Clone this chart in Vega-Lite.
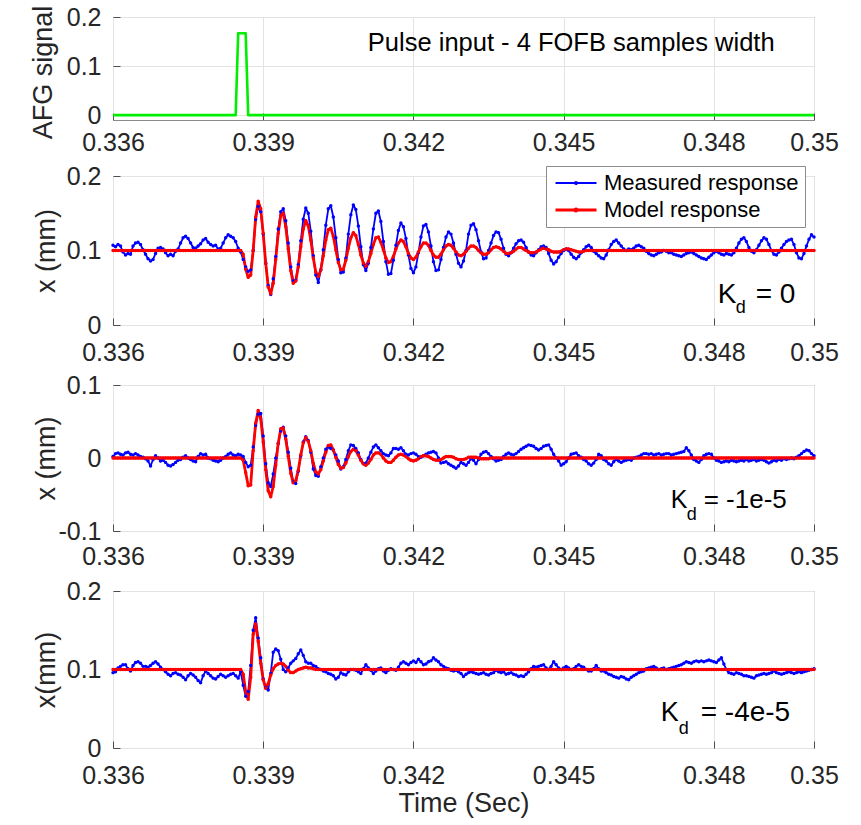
{
"$schema":"https://vega.github.io/schema/vega-lite/v6.json",
"background":"white",
"padding":{"left":28,"top":4,"right":12,"bottom":5},
"config":{
"font":"Liberation Sans",
"view":{"stroke":"#8a8a8a","strokeWidth":1},
"axis":{"labelFont":"Liberation Sans","titleFont":"Liberation Sans","labelFontSize":25,"titleFontSize":27,"titleFontWeight":"normal","labelColor":"#262626","titleColor":"#262626","domain":false,"grid":true,"gridColor":"#e3e3e3","tickColor":"#4d4d4d","tickSize":-7,"labelOverlap":false,"labelFlush":false,"labelBound":false},
"axisX":{"labelPadding":20,"titlePadding":2},
"axisY":{"labelPadding":19,"titleBaseline":"middle"},
"text":{"font":"Liberation Sans","color":"#000000"}
},
"datasets":{
"afg":[{"t":0.336,"a":0},{"t":0.33845,"a":0},{"t":0.3385,"a":0.167},{"t":0.33855,"a":0.167},{"t":0.3386,"a":0.167},{"t":0.33865,"a":0.167},{"t":0.3387,"a":0},{"t":0.35,"a":0}],
"resp":[
{"t":0.336,"m1":0.107,"r1":0.1,"m2":0.002,"r2":0,"m3":0.096,"r3":0.1},
{"t":0.33605,"m1":0.105,"r1":0.1,"m2":0.006,"r2":0,"m3":0.097,"r3":0.1},
{"t":0.3361,"m1":0.108,"r1":0.1,"m2":0.007,"r2":0,"m3":0.102,"r3":0.1},
{"t":0.33615,"m1":0.106,"r1":0.1,"m2":0.005,"r2":0,"m3":0.104,"r3":0.1},
{"t":0.3362,"m1":0.098,"r1":0.1,"m2":0.004,"r2":0,"m3":0.106,"r3":0.1},
{"t":0.33625,"m1":0.094,"r1":0.1,"m2":0.007,"r2":0,"m3":0.106,"r3":0.1},
{"t":0.3363,"m1":0.096,"r1":0.1,"m2":0.008,"r2":0,"m3":0.101,"r3":0.1},
{"t":0.33635,"m1":0.095,"r1":0.1,"m2":0.005,"r2":0,"m3":0.098,"r3":0.1},
{"t":0.3364,"m1":0.106,"r1":0.1,"m2":0.004,"r2":0,"m3":0.105,"r3":0.1},
{"t":0.33645,"m1":0.11,"r1":0.1,"m2":0.006,"r2":0,"m3":0.109,"r3":0.1},
{"t":0.3365,"m1":0.111,"r1":0.1,"m2":0.004,"r2":0,"m3":0.11,"r3":0.1},
{"t":0.33655,"m1":0.108,"r1":0.1,"m2":0.002,"r2":0,"m3":0.108,"r3":0.1},
{"t":0.3366,"m1":0.101,"r1":0.1,"m2":0.001,"r2":0,"m3":0.104,"r3":0.1},
{"t":0.33665,"m1":0.095,"r1":0.1,"m2":-0.001,"r2":0,"m3":0.104,"r3":0.1},
{"t":0.3367,"m1":0.089,"r1":0.1,"m2":-0.004,"r2":0,"m3":0.103,"r3":0.1},
{"t":0.33675,"m1":0.086,"r1":0.1,"m2":-0.011,"r2":0,"m3":0.105,"r3":0.1},
{"t":0.3368,"m1":0.088,"r1":0.1,"m2":-0.002,"r2":0,"m3":0.108,"r3":0.1},
{"t":0.33685,"m1":0.096,"r1":0.1,"m2":0.003,"r2":0,"m3":0.11,"r3":0.1},
{"t":0.3369,"m1":0.103,"r1":0.1,"m2":0,"r2":0,"m3":0.107,"r3":0.1},
{"t":0.33695,"m1":0.104,"r1":0.1,"m2":-0.004,"r2":0,"m3":0.103,"r3":0.1},
{"t":0.337,"m1":0.102,"r1":0.1,"m2":-0.003,"r2":0,"m3":0.1,"r3":0.1},
{"t":0.33705,"m1":0.097,"r1":0.1,"m2":-0.006,"r2":0,"m3":0.097,"r3":0.1},
{"t":0.3371,"m1":0.093,"r1":0.1,"m2":-0.01,"r2":0,"m3":0.094,"r3":0.1},
{"t":0.33715,"m1":0.095,"r1":0.1,"m2":-0.011,"r2":0,"m3":0.092,"r3":0.1},
{"t":0.3372,"m1":0.093,"r1":0.1,"m2":-0.009,"r2":0,"m3":0.095,"r3":0.1},
{"t":0.33725,"m1":0.099,"r1":0.1,"m2":-0.006,"r2":0,"m3":0.096,"r3":0.1},
{"t":0.3373,"m1":0.102,"r1":0.1,"m2":-0.003,"r2":0,"m3":0.094,"r3":0.1},
{"t":0.33735,"m1":0.11,"r1":0.1,"m2":-0.002,"r2":0,"m3":0.093,"r3":0.1},
{"t":0.3374,"m1":0.117,"r1":0.1,"m2":0.001,"r2":0,"m3":0.09,"r3":0.1},
{"t":0.33745,"m1":0.119,"r1":0.1,"m2":0.003,"r2":0,"m3":0.087,"r3":0.1},
{"t":0.3375,"m1":0.116,"r1":0.1,"m2":0,"r2":0,"m3":0.092,"r3":0.1},
{"t":0.33755,"m1":0.11,"r1":0.1,"m2":-0.002,"r2":0,"m3":0.095,"r3":0.1},
{"t":0.3376,"m1":0.104,"r1":0.1,"m2":-0.004,"r2":0,"m3":0.093,"r3":0.1},
{"t":0.33765,"m1":0.103,"r1":0.1,"m2":-0.005,"r2":0,"m3":0.09,"r3":0.1},
{"t":0.3377,"m1":0.106,"r1":0.1,"m2":0.002,"r2":0,"m3":0.086,"r3":0.1},
{"t":0.33775,"m1":0.109,"r1":0.1,"m2":0.006,"r2":0,"m3":0.083,"r3":0.1},
{"t":0.3378,"m1":0.114,"r1":0.1,"m2":0.004,"r2":0,"m3":0.092,"r3":0.1},
{"t":0.33785,"m1":0.116,"r1":0.1,"m2":0.005,"r2":0,"m3":0.098,"r3":0.1},
{"t":0.3379,"m1":0.111,"r1":0.1,"m2":0,"r2":0,"m3":0.095,"r3":0.1},
{"t":0.33795,"m1":0.108,"r1":0.1,"m2":-0.001,"r2":0,"m3":0.092,"r3":0.1},
{"t":0.338,"m1":0.106,"r1":0.1,"m2":-0.003,"r2":0,"m3":0.089,"r3":0.1},
{"t":0.33805,"m1":0.107,"r1":0.1,"m2":-0.004,"r2":0,"m3":0.088,"r3":0.1},
{"t":0.3381,"m1":0.102,"r1":0.1,"m2":-0.005,"r2":0,"m3":0.091,"r3":0.1},
{"t":0.33815,"m1":0.103,"r1":0.1,"m2":-0.003,"r2":0,"m3":0.094,"r3":0.1},
{"t":0.3382,"m1":0.11,"r1":0.1,"m2":0,"r2":0,"m3":0.092,"r3":0.1},
{"t":0.33825,"m1":0.117,"r1":0.1,"m2":0.002,"r2":0,"m3":0.09,"r3":0.1},
{"t":0.3383,"m1":0.121,"r1":0.1,"m2":0.005,"r2":0,"m3":0.092,"r3":0.1},
{"t":0.33835,"m1":0.119,"r1":0.1,"m2":0.007,"r2":0,"m3":0.094,"r3":0.1},
{"t":0.3384,"m1":0.117,"r1":0.1,"m2":0.004,"r2":0,"m3":0.095,"r3":0.1},
{"t":0.33845,"m1":0.112,"r1":0.1,"m2":0.003,"r2":0,"m3":0.092,"r3":0.1},
{"t":0.3385,"m1":0.103,"r1":0.1,"m2":0.005,"r2":0,"m3":0.089,"r3":0.1},
{"t":0.33855,"m1":0.098,"r1":0.1,"m2":0.004,"r2":0,"m3":0.097,"r3":0.1},
{"t":0.3386,"m1":0.088,"r1":0.095,"m2":0.002,"r2":-0.003,"m3":0.08,"r3":0.094},
{"t":0.33865,"m1":0.078,"r1":0.075,"m2":-0.006,"r2":-0.02,"m3":0.066,"r3":0.072},
{"t":0.3387,"m1":0.072,"r1":0.064,"m2":-0.012,"r2":-0.038,"m3":0.072,"r3":0.062},
{"t":0.33875,"m1":0.074,"r1":0.067,"m2":-0.01,"r2":-0.037,"m3":0.105,"r3":0.09},
{"t":0.3388,"m1":0.1,"r1":0.1,"m2":0.015,"r2":0.01,"m3":0.15,"r3":0.145},
{"t":0.33885,"m1":0.142,"r1":0.145,"m2":0.045,"r2":0.048,"m3":0.166,"r3":0.158},
{"t":0.3389,"m1":0.159,"r1":0.166,"m2":0.06,"r2":0.065,"m3":0.14,"r3":0.136},
{"t":0.33895,"m1":0.152,"r1":0.156,"m2":0.061,"r2":0.054,"m3":0.115,"r3":0.108},
{"t":0.339,"m1":0.122,"r1":0.123,"m2":0.03,"r2":0.022,"m3":0.088,"r3":0.087},
{"t":0.33905,"m1":0.083,"r1":0.083,"m2":-0.008,"r2":-0.016,"m3":0.077,"r3":0.076},
{"t":0.3391,"m1":0.053,"r1":0.051,"m2":-0.034,"r2":-0.045,"m3":0.074,"r3":0.082},
{"t":0.33915,"m1":0.041,"r1":0.042,"m2":-0.039,"r2":-0.053,"m3":0.095,"r3":0.093},
{"t":0.3392,"m1":0.062,"r1":0.056,"m2":-0.022,"r2":-0.039,"m3":0.122,"r3":0.101},
{"t":0.33925,"m1":0.092,"r1":0.088,"m2":0,"r2":-0.01,"m3":0.126,"r3":0.105},
{"t":0.3393,"m1":0.129,"r1":0.123,"m2":0.02,"r2":0.02,"m3":0.124,"r3":0.107},
{"t":0.33935,"m1":0.152,"r1":0.147,"m2":0.037,"r2":0.04,"m3":0.113,"r3":0.108},
{"t":0.3394,"m1":0.156,"r1":0.15,"m2":0.042,"r2":0.041,"m3":0.1,"r3":0.107},
{"t":0.33945,"m1":0.14,"r1":0.132,"m2":0.03,"r2":0.026,"m3":0.097,"r3":0.104},
{"t":0.3395,"m1":0.11,"r1":0.102,"m2":0.008,"r2":0.002,"m3":0.102,"r3":0.099},
{"t":0.33955,"m1":0.078,"r1":0.073,"m2":-0.014,"r2":-0.021,"m3":0.108,"r3":0.096},
{"t":0.3396,"m1":0.059,"r1":0.056,"m2":-0.033,"r2":-0.034,"m3":0.111,"r3":0.096},
{"t":0.33965,"m1":0.06,"r1":0.059,"m2":-0.035,"r2":-0.031,"m3":0.114,"r3":0.098},
{"t":0.3397,"m1":0.081,"r1":0.078,"m2":-0.018,"r2":-0.017,"m3":0.12,"r3":0.1},
{"t":0.33975,"m1":0.113,"r1":0.105,"m2":0.003,"r2":0.004,"m3":0.125,"r3":0.101},
{"t":0.3398,"m1":0.142,"r1":0.129,"m2":0.022,"r2":0.021,"m3":0.118,"r3":0.102},
{"t":0.33985,"m1":0.157,"r1":0.14,"m2":0.029,"r2":0.028,"m3":0.11,"r3":0.103},
{"t":0.3399,"m1":0.15,"r1":0.133,"m2":0.024,"r2":0.023,"m3":0.108,"r3":0.102},
{"t":0.33995,"m1":0.126,"r1":0.114,"m2":0.008,"r2":0.01,"m3":0.108,"r3":0.102},
{"t":0.34,"m1":0.093,"r1":0.09,"m2":-0.015,"r2":-0.007,"m3":0.105,"r3":0.101},
{"t":0.34005,"m1":0.067,"r1":0.071,"m2":-0.024,"r2":-0.019,"m3":0.104,"r3":0.1},
{"t":0.3401,"m1":0.057,"r1":0.065,"m2":-0.025,"r2":-0.022,"m3":0.101,"r3":0.1},
{"t":0.34015,"m1":0.074,"r1":0.074,"m2":-0.012,"r2":-0.016,"m3":0.1,"r3":0.1},
{"t":0.3402,"m1":0.101,"r1":0.093,"m2":0,"r2":-0.004,"m3":0.098,"r3":0.1},
{"t":0.34025,"m1":0.134,"r1":0.114,"m2":0.012,"r2":0.008,"m3":0.097,"r3":0.1},
{"t":0.3403,"m1":0.156,"r1":0.128,"m2":0.015,"r2":0.017,"m3":0.095,"r3":0.1},
{"t":0.34035,"m1":0.16,"r1":0.13,"m2":0.013,"r2":0.018,"m3":0.094,"r3":0.1},
{"t":0.3404,"m1":0.145,"r1":0.119,"m2":0.011,"r2":0.011,"m3":0.092,"r3":0.1},
{"t":0.34045,"m1":0.117,"r1":0.101,"m2":0.004,"r2":0.001,"m3":0.088,"r3":0.1},
{"t":0.3405,"m1":0.088,"r1":0.084,"m2":-0.004,"r2":-0.009,"m3":0.09,"r3":0.1},
{"t":0.34055,"m1":0.07,"r1":0.074,"m2":-0.015,"r2":-0.014,"m3":0.096,"r3":0.1},
{"t":0.3406,"m1":0.071,"r1":0.075,"m2":-0.012,"r2":-0.013,"m3":0.094,"r3":0.1},
{"t":0.34065,"m1":0.09,"r1":0.087,"m2":-0.002,"r2":-0.007,"m3":0.093,"r3":0.1},
{"t":0.3407,"m1":0.122,"r1":0.103,"m2":0.01,"r2":0.002,"m3":0.097,"r3":0.1},
{"t":0.34075,"m1":0.148,"r1":0.117,"m2":0.018,"r2":0.009,"m3":0.1,"r3":0.1},
{"t":0.3408,"m1":0.161,"r1":0.124,"m2":0.017,"r2":0.012,"m3":0.1,"r3":0.1},
{"t":0.34085,"m1":0.155,"r1":0.12,"m2":0.013,"r2":0.01,"m3":0.099,"r3":0.1},
{"t":0.3409,"m1":0.133,"r1":0.108,"m2":0.007,"r2":0.004,"m3":0.097,"r3":0.1},
{"t":0.34095,"m1":0.105,"r1":0.094,"m2":-0.002,"r2":-0.003,"m3":0.095,"r3":0.1},
{"t":0.341,"m1":0.081,"r1":0.083,"m2":-0.008,"r2":-0.008,"m3":0.101,"r3":0.1},
{"t":0.34105,"m1":0.073,"r1":0.079,"m2":-0.007,"r2":-0.01,"m3":0.106,"r3":0.1},
{"t":0.3411,"m1":0.083,"r1":0.085,"m2":0,"r2":-0.007,"m3":0.102,"r3":0.1},
{"t":0.34115,"m1":0.104,"r1":0.096,"m2":0.008,"r2":-0.002,"m3":0.099,"r3":0.1},
{"t":0.3412,"m1":0.129,"r1":0.108,"m2":0.015,"r2":0.004,"m3":0.095,"r3":0.1},
{"t":0.34125,"m1":0.15,"r1":0.117,"m2":0.018,"r2":0.007,"m3":0.098,"r3":0.1},
{"t":0.3413,"m1":0.153,"r1":0.118,"m2":0.014,"r2":0.007,"m3":0.101,"r3":0.1},
{"t":0.34135,"m1":0.139,"r1":0.111,"m2":0.01,"r2":0.005,"m3":0.102,"r3":0.1},
{"t":0.3414,"m1":0.112,"r1":0.101,"m2":0.006,"r2":0,"m3":0.098,"r3":0.1},
{"t":0.34145,"m1":0.085,"r1":0.09,"m2":0.004,"r2":-0.004,"m3":0.096,"r3":0.1},
{"t":0.3415,"m1":0.068,"r1":0.084,"m2":0.003,"r2":-0.006,"m3":0.099,"r3":0.1},
{"t":0.34155,"m1":0.069,"r1":0.085,"m2":0.007,"r2":-0.006,"m3":0.101,"r3":0.1},
{"t":0.3416,"m1":0.087,"r1":0.092,"m2":0.013,"r2":-0.003,"m3":0.1,"r3":0.1},
{"t":0.34165,"m1":0.107,"r1":0.102,"m2":0.013,"r2":0.001,"m3":0.099,"r3":0.1},
{"t":0.3417,"m1":0.127,"r1":0.11,"m2":0.012,"r2":0.004,"m3":0.103,"r3":0.1},
{"t":0.34175,"m1":0.137,"r1":0.114,"m2":0.014,"r2":0.005,"m3":0.108,"r3":0.1},
{"t":0.3418,"m1":0.132,"r1":0.112,"m2":0.01,"r2":0.004,"m3":0.11,"r3":0.1},
{"t":0.34185,"m1":0.116,"r1":0.105,"m2":0.005,"r2":0.002,"m3":0.108,"r3":0.1},
{"t":0.3419,"m1":0.094,"r1":0.096,"m2":0.004,"r2":-0.001,"m3":0.106,"r3":0.1},
{"t":0.34195,"m1":0.076,"r1":0.09,"m2":0.006,"r2":-0.003,"m3":0.109,"r3":0.1},
{"t":0.342,"m1":0.07,"r1":0.088,"m2":0.007,"r2":-0.004,"m3":0.111,"r3":0.1},
{"t":0.34205,"m1":0.078,"r1":0.091,"m2":0.005,"r2":-0.003,"m3":0.109,"r3":0.1},
{"t":0.3421,"m1":0.097,"r1":0.098,"m2":0.002,"r2":-0.001,"m3":0.113,"r3":0.1},
{"t":0.34215,"m1":0.118,"r1":0.105,"m2":0.001,"r2":0.002,"m3":0.11,"r3":0.1},
{"t":0.3422,"m1":0.133,"r1":0.11,"m2":0.003,"r2":0.003,"m3":0.106,"r3":0.1},
{"t":0.34225,"m1":0.135,"r1":0.11,"m2":0.005,"r2":0.003,"m3":0.107,"r3":0.1},
{"t":0.3423,"m1":0.125,"r1":0.107,"m2":0.007,"r2":0.002,"m3":0.11,"r3":0.1},
{"t":0.34235,"m1":0.106,"r1":0.1,"m2":0.008,"r2":0,"m3":0.111,"r3":0.1},
{"t":0.3424,"m1":0.085,"r1":0.094,"m2":0.009,"r2":-0.002,"m3":0.115,"r3":0.1},
{"t":0.34245,"m1":0.073,"r1":0.091,"m2":0.007,"r2":-0.003,"m3":0.112,"r3":0.1},
{"t":0.3425,"m1":0.074,"r1":0.091,"m2":0,"r2":-0.003,"m3":0.11,"r3":0.1},
{"t":0.34255,"m1":0.088,"r1":0.095,"m2":-0.007,"r2":-0.002,"m3":0.106,"r3":0.1},
{"t":0.3426,"m1":0.104,"r1":0.101,"m2":-0.006,"r2":0,"m3":0.104,"r3":0.1},
{"t":0.34265,"m1":0.118,"r1":0.106,"m2":-0.005,"r2":0.002,"m3":0.102,"r3":0.1},
{"t":0.3427,"m1":0.125,"r1":0.108,"m2":-0.008,"r2":0.002,"m3":0.101,"r3":0.1},
{"t":0.34275,"m1":0.122,"r1":0.107,"m2":-0.01,"r2":0.002,"m3":0.099,"r3":0.1},
{"t":0.3428,"m1":0.11,"r1":0.103,"m2":-0.012,"r2":0.001,"m3":0.098,"r3":0.1},
{"t":0.34285,"m1":0.095,"r1":0.098,"m2":-0.014,"r2":-0.001,"m3":0.099,"r3":0.1},
{"t":0.3429,"m1":0.083,"r1":0.094,"m2":-0.011,"r2":-0.002,"m3":0.097,"r3":0.1},
{"t":0.34295,"m1":0.078,"r1":0.093,"m2":-0.006,"r2":-0.002,"m3":0.095,"r3":0.1},
{"t":0.343,"m1":0.086,"r1":0.095,"m2":-0.008,"r2":-0.002,"m3":0.091,"r3":0.1},
{"t":0.34305,"m1":0.1,"r1":0.099,"m2":-0.01,"r2":-0.001,"m3":0.094,"r3":0.1},
{"t":0.3431,"m1":0.122,"r1":0.103,"m2":-0.006,"r2":0.001,"m3":0.096,"r3":0.1},
{"t":0.34315,"m1":0.134,"r1":0.106,"m2":-0.001,"r2":0.001,"m3":0.097,"r3":0.1},
{"t":0.3432,"m1":0.136,"r1":0.106,"m2":-0.003,"r2":0.001,"m3":0.096,"r3":0.1},
{"t":0.34325,"m1":0.128,"r1":0.104,"m2":-0.008,"r2":0.001,"m3":0.095,"r3":0.1},
{"t":0.3433,"m1":0.113,"r1":0.1,"m2":-0.002,"r2":0,"m3":0.094,"r3":0.1},
{"t":0.34335,"m1":0.098,"r1":0.097,"m2":0.005,"r2":-0.001,"m3":0.095,"r3":0.1},
{"t":0.3434,"m1":0.089,"r1":0.095,"m2":0.008,"r2":-0.001,"m3":0.096,"r3":0.1},
{"t":0.34345,"m1":0.09,"r1":0.095,"m2":0.009,"r2":-0.001,"m3":0.094,"r3":0.1},
{"t":0.3435,"m1":0.1,"r1":0.097,"m2":0.006,"r2":-0.001,"m3":0.093,"r3":0.1},
{"t":0.34355,"m1":0.11,"r1":0.101,"m2":0.002,"r2":0,"m3":0.095,"r3":0.1},
{"t":0.3436,"m1":0.12,"r1":0.104,"m2":-0.001,"r2":0,"m3":0.096,"r3":0.1},
{"t":0.34365,"m1":0.125,"r1":0.105,"m2":-0.004,"r2":0,"m3":0.099,"r3":0.1},
{"t":0.3437,"m1":0.124,"r1":0.104,"m2":-0.003,"r2":0,"m3":0.097,"r3":0.1},
{"t":0.34375,"m1":0.115,"r1":0.102,"m2":-0.002,"r2":0,"m3":0.096,"r3":0.1},
{"t":0.3438,"m1":0.103,"r1":0.099,"m2":0.002,"r2":0,"m3":0.097,"r3":0.1},
{"t":0.34385,"m1":0.095,"r1":0.096,"m2":0.005,"r2":0,"m3":0.094,"r3":0.1},
{"t":0.3439,"m1":0.093,"r1":0.096,"m2":0.007,"r2":0,"m3":0.095,"r3":0.1},
{"t":0.34395,"m1":0.097,"r1":0.097,"m2":0.005,"r2":0,"m3":0.096,"r3":0.1},
{"t":0.344,"m1":0.103,"r1":0.099,"m2":0.004,"r2":0,"m3":0.094,"r3":0.1},
{"t":0.34405,"m1":0.109,"r1":0.102,"m2":0.006,"r2":0,"m3":0.093,"r3":0.1},
{"t":0.3441,"m1":0.113,"r1":0.104,"m2":0.009,"r2":0,"m3":0.091,"r3":0.1},
{"t":0.34415,"m1":0.114,"r1":0.104,"m2":0.012,"r2":0,"m3":0.092,"r3":0.1},
{"t":0.3442,"m1":0.111,"r1":0.102,"m2":0.014,"r2":0,"m3":0.091,"r3":0.1},
{"t":0.34425,"m1":0.104,"r1":0.1,"m2":0.016,"r2":0,"m3":0.094,"r3":0.1},
{"t":0.3443,"m1":0.098,"r1":0.098,"m2":0.018,"r2":0,"m3":0.097,"r3":0.1},
{"t":0.34435,"m1":0.094,"r1":0.097,"m2":0.017,"r2":0,"m3":0.101,"r3":0.1},
{"t":0.3444,"m1":0.093,"r1":0.097,"m2":0.016,"r2":0,"m3":0.104,"r3":0.1},
{"t":0.34445,"m1":0.097,"r1":0.098,"m2":0.013,"r2":0,"m3":0.103,"r3":0.1},
{"t":0.3445,"m1":0.101,"r1":0.1,"m2":0.011,"r2":0,"m3":0.104,"r3":0.1},
{"t":0.34455,"m1":0.105,"r1":0.102,"m2":0.013,"r2":0,"m3":0.105,"r3":0.1},
{"t":0.3446,"m1":0.106,"r1":0.103,"m2":0.016,"r2":0,"m3":0.106,"r3":0.1},
{"t":0.34465,"m1":0.104,"r1":0.102,"m2":0.017,"r2":0,"m3":0.102,"r3":0.1},
{"t":0.3447,"m1":0.096,"r1":0.101,"m2":0.018,"r2":0,"m3":0.1,"r3":0.1},
{"t":0.34475,"m1":0.087,"r1":0.099,"m2":0.012,"r2":0,"m3":0.104,"r3":0.1},
{"t":0.3448,"m1":0.082,"r1":0.098,"m2":0.005,"r2":0,"m3":0.11,"r3":0.1},
{"t":0.34485,"m1":0.085,"r1":0.098,"m2":0,"r2":0,"m3":0.106,"r3":0.1},
{"t":0.3449,"m1":0.091,"r1":0.098,"m2":-0.004,"r2":0,"m3":0.102,"r3":0.1},
{"t":0.34495,"m1":0.096,"r1":0.099,"m2":-0.01,"r2":0,"m3":0.1,"r3":0.1},
{"t":0.345,"m1":0.1,"r1":0.101,"m2":-0.008,"r2":0,"m3":0.102,"r3":0.1},
{"t":0.34505,"m1":0.102,"r1":0.102,"m2":-0.005,"r2":0,"m3":0.104,"r3":0.1},
{"t":0.3451,"m1":0.1,"r1":0.102,"m2":0,"r2":0,"m3":0.102,"r3":0.1},
{"t":0.34515,"m1":0.095,"r1":0.101,"m2":0.005,"r2":0,"m3":0.1,"r3":0.1},
{"t":0.3452,"m1":0.091,"r1":0.1,"m2":0.006,"r2":0,"m3":0.101,"r3":0.1},
{"t":0.34525,"m1":0.089,"r1":0.099,"m2":0.007,"r2":0,"m3":0.104,"r3":0.1},
{"t":0.3453,"m1":0.092,"r1":0.098,"m2":0.003,"r2":0,"m3":0.106,"r3":0.1},
{"t":0.34535,"m1":0.097,"r1":0.098,"m2":0.001,"r2":0,"m3":0.104,"r3":0.1},
{"t":0.3454,"m1":0.101,"r1":0.099,"m2":-0.002,"r2":0,"m3":0.103,"r3":0.1},
{"t":0.34545,"m1":0.105,"r1":0.1,"m2":-0.004,"r2":0,"m3":0.1,"r3":0.1},
{"t":0.3455,"m1":0.107,"r1":0.1,"m2":-0.008,"r2":0,"m3":0.098,"r3":0.1},
{"t":0.34555,"m1":0.104,"r1":0.1,"m2":-0.01,"r2":0,"m3":0.098,"r3":0.1},
{"t":0.3456,"m1":0.099,"r1":0.1,"m2":-0.007,"r2":0,"m3":0.101,"r3":0.1},
{"t":0.34565,"m1":0.096,"r1":0.1,"m2":-0.002,"r2":0,"m3":0.105,"r3":0.1},
{"t":0.3457,"m1":0.093,"r1":0.1,"m2":0.005,"r2":0,"m3":0.101,"r3":0.1},
{"t":0.34575,"m1":0.09,"r1":0.1,"m2":0.003,"r2":0,"m3":0.098,"r3":0.1},
{"t":0.3458,"m1":0.089,"r1":0.1,"m2":-0.002,"r2":0,"m3":0.098,"r3":0.1},
{"t":0.34585,"m1":0.094,"r1":0.1,"m2":-0.004,"r2":0,"m3":0.096,"r3":0.1},
{"t":0.3459,"m1":0.101,"r1":0.1,"m2":-0.008,"r2":0,"m3":0.094,"r3":0.1},
{"t":0.34595,"m1":0.108,"r1":0.1,"m2":-0.01,"r2":0,"m3":0.093,"r3":0.1},
{"t":0.346,"m1":0.112,"r1":0.1,"m2":-0.005,"r2":0,"m3":0.091,"r3":0.1},
{"t":0.34605,"m1":0.114,"r1":0.1,"m2":-0.002,"r2":0,"m3":0.09,"r3":0.1},
{"t":0.3461,"m1":0.11,"r1":0.1,"m2":-0.004,"r2":0,"m3":0.089,"r3":0.1},
{"t":0.34615,"m1":0.106,"r1":0.1,"m2":-0.006,"r2":0,"m3":0.091,"r3":0.1},
{"t":0.3462,"m1":0.102,"r1":0.1,"m2":-0.004,"r2":0,"m3":0.09,"r3":0.1},
{"t":0.34625,"m1":0.1,"r1":0.1,"m2":-0.003,"r2":0,"m3":0.088,"r3":0.1},
{"t":0.3463,"m1":0.102,"r1":0.1,"m2":-0.002,"r2":0,"m3":0.087,"r3":0.1},
{"t":0.34635,"m1":0.101,"r1":0.1,"m2":-0.003,"r2":0,"m3":0.09,"r3":0.1},
{"t":0.3464,"m1":0.103,"r1":0.1,"m2":0,"r2":0,"m3":0.092,"r3":0.1},
{"t":0.34645,"m1":0.106,"r1":0.1,"m2":0.001,"r2":0,"m3":0.094,"r3":0.1},
{"t":0.3465,"m1":0.107,"r1":0.1,"m2":0.002,"r2":0,"m3":0.096,"r3":0.1},
{"t":0.34655,"m1":0.105,"r1":0.1,"m2":0.004,"r2":0,"m3":0.097,"r3":0.1},
{"t":0.3466,"m1":0.103,"r1":0.1,"m2":0.006,"r2":0,"m3":0.098,"r3":0.1},
{"t":0.34665,"m1":0.099,"r1":0.1,"m2":0.006,"r2":0,"m3":0.101,"r3":0.1},
{"t":0.3467,"m1":0.096,"r1":0.1,"m2":0.005,"r2":0,"m3":0.102,"r3":0.1},
{"t":0.34675,"m1":0.094,"r1":0.1,"m2":0.006,"r2":0,"m3":0.103,"r3":0.1},
{"t":0.3468,"m1":0.093,"r1":0.1,"m2":0.004,"r2":0,"m3":0.104,"r3":0.1},
{"t":0.34685,"m1":0.095,"r1":0.1,"m2":0.005,"r2":0,"m3":0.102,"r3":0.1},
{"t":0.3469,"m1":0.097,"r1":0.1,"m2":0.006,"r2":0,"m3":0.1,"r3":0.1},
{"t":0.34695,"m1":0.098,"r1":0.1,"m2":0.004,"r2":0,"m3":0.101,"r3":0.1},
{"t":0.347,"m1":0.1,"r1":0.1,"m2":0.005,"r2":0,"m3":0.102,"r3":0.1},
{"t":0.34705,"m1":0.099,"r1":0.1,"m2":0.006,"r2":0,"m3":0.1,"r3":0.1},
{"t":0.3471,"m1":0.097,"r1":0.1,"m2":0.006,"r2":0,"m3":0.101,"r3":0.1},
{"t":0.34715,"m1":0.097,"r1":0.1,"m2":0.004,"r2":0,"m3":0.102,"r3":0.1},
{"t":0.3472,"m1":0.095,"r1":0.1,"m2":0.005,"r2":0,"m3":0.103,"r3":0.1},
{"t":0.34725,"m1":0.094,"r1":0.1,"m2":0.006,"r2":0,"m3":0.104,"r3":0.1},
{"t":0.3473,"m1":0.093,"r1":0.1,"m2":0.007,"r2":0,"m3":0.105,"r3":0.1},
{"t":0.34735,"m1":0.092,"r1":0.1,"m2":0.008,"r2":0,"m3":0.106,"r3":0.1},
{"t":0.3474,"m1":0.094,"r1":0.1,"m2":0.009,"r2":0,"m3":0.108,"r3":0.1},
{"t":0.34745,"m1":0.096,"r1":0.1,"m2":0.014,"r2":0,"m3":0.11,"r3":0.1},
{"t":0.3475,"m1":0.097,"r1":0.1,"m2":0.01,"r2":0,"m3":0.109,"r3":0.1},
{"t":0.34755,"m1":0.098,"r1":0.1,"m2":0.004,"r2":0,"m3":0.108,"r3":0.1},
{"t":0.3476,"m1":0.096,"r1":0.1,"m2":-0.002,"r2":0,"m3":0.11,"r3":0.1},
{"t":0.34765,"m1":0.094,"r1":0.1,"m2":-0.004,"r2":0,"m3":0.111,"r3":0.1},
{"t":0.3477,"m1":0.092,"r1":0.1,"m2":-0.006,"r2":0,"m3":0.11,"r3":0.1},
{"t":0.34775,"m1":0.09,"r1":0.1,"m2":-0.002,"r2":0,"m3":0.111,"r3":0.1},
{"t":0.3478,"m1":0.089,"r1":0.1,"m2":0.003,"r2":0,"m3":0.11,"r3":0.1},
{"t":0.34785,"m1":0.088,"r1":0.1,"m2":0.005,"r2":0,"m3":0.111,"r3":0.1},
{"t":0.3479,"m1":0.091,"r1":0.1,"m2":0.006,"r2":0,"m3":0.112,"r3":0.1},
{"t":0.34795,"m1":0.094,"r1":0.1,"m2":0.005,"r2":0,"m3":0.111,"r3":0.1},
{"t":0.348,"m1":0.097,"r1":0.1,"m2":0,"r2":0,"m3":0.11,"r3":0.1},
{"t":0.34805,"m1":0.099,"r1":0.1,"m2":-0.003,"r2":0,"m3":0.109,"r3":0.1},
{"t":0.3481,"m1":0.097,"r1":0.1,"m2":-0.004,"r2":0,"m3":0.112,"r3":0.1},
{"t":0.34815,"m1":0.095,"r1":0.1,"m2":-0.006,"r2":0,"m3":0.115,"r3":0.1},
{"t":0.3482,"m1":0.094,"r1":0.1,"m2":-0.005,"r2":0,"m3":0.107,"r3":0.1},
{"t":0.34825,"m1":0.096,"r1":0.1,"m2":-0.004,"r2":0,"m3":0.1,"r3":0.1},
{"t":0.3483,"m1":0.095,"r1":0.1,"m2":-0.005,"r2":0,"m3":0.096,"r3":0.1},
{"t":0.34835,"m1":0.094,"r1":0.1,"m2":-0.003,"r2":0,"m3":0.095,"r3":0.1},
{"t":0.3484,"m1":0.097,"r1":0.1,"m2":-0.004,"r2":0,"m3":0.094,"r3":0.1},
{"t":0.34845,"m1":0.103,"r1":0.1,"m2":-0.005,"r2":0,"m3":0.096,"r3":0.1},
{"t":0.3485,"m1":0.11,"r1":0.1,"m2":-0.004,"r2":0,"m3":0.095,"r3":0.1},
{"t":0.34855,"m1":0.115,"r1":0.1,"m2":-0.003,"r2":0,"m3":0.094,"r3":0.1},
{"t":0.3486,"m1":0.117,"r1":0.1,"m2":-0.004,"r2":0,"m3":0.092,"r3":0.1},
{"t":0.34865,"m1":0.112,"r1":0.1,"m2":-0.002,"r2":0,"m3":0.092,"r3":0.1},
{"t":0.3487,"m1":0.104,"r1":0.1,"m2":-0.004,"r2":0,"m3":0.091,"r3":0.1},
{"t":0.34875,"m1":0.099,"r1":0.1,"m2":-0.003,"r2":0,"m3":0.09,"r3":0.1},
{"t":0.3488,"m1":0.097,"r1":0.1,"m2":-0.002,"r2":0,"m3":0.089,"r3":0.1},
{"t":0.34885,"m1":0.101,"r1":0.1,"m2":-0.004,"r2":0,"m3":0.092,"r3":0.1},
{"t":0.3489,"m1":0.107,"r1":0.1,"m2":-0.003,"r2":0,"m3":0.093,"r3":0.1},
{"t":0.34895,"m1":0.113,"r1":0.1,"m2":-0.002,"r2":0,"m3":0.094,"r3":0.1},
{"t":0.349,"m1":0.117,"r1":0.1,"m2":-0.003,"r2":0,"m3":0.095,"r3":0.1},
{"t":0.34905,"m1":0.115,"r1":0.1,"m2":-0.005,"r2":0,"m3":0.094,"r3":0.1},
{"t":0.3491,"m1":0.108,"r1":0.1,"m2":-0.007,"r2":0,"m3":0.095,"r3":0.1},
{"t":0.34915,"m1":0.1,"r1":0.1,"m2":-0.005,"r2":0,"m3":0.096,"r3":0.1},
{"t":0.3492,"m1":0.095,"r1":0.1,"m2":-0.003,"r2":0,"m3":0.098,"r3":0.1},
{"t":0.34925,"m1":0.094,"r1":0.1,"m2":-0.004,"r2":0,"m3":0.096,"r3":0.1},
{"t":0.3493,"m1":0.098,"r1":0.1,"m2":-0.002,"r2":0,"m3":0.095,"r3":0.1},
{"t":0.34935,"m1":0.103,"r1":0.1,"m2":-0.003,"r2":0,"m3":0.094,"r3":0.1},
{"t":0.3494,"m1":0.108,"r1":0.1,"m2":-0.001,"r2":0,"m3":0.095,"r3":0.1},
{"t":0.34945,"m1":0.112,"r1":0.1,"m2":-0.002,"r2":0,"m3":0.096,"r3":0.1},
{"t":0.3495,"m1":0.114,"r1":0.1,"m2":-0.001,"r2":0,"m3":0.097,"r3":0.1},
{"t":0.34955,"m1":0.115,"r1":0.1,"m2":0,"r2":0,"m3":0.096,"r3":0.1},
{"t":0.3496,"m1":0.108,"r1":0.1,"m2":-0.001,"r2":0,"m3":0.095,"r3":0.1},
{"t":0.34965,"m1":0.097,"r1":0.1,"m2":0.001,"r2":0,"m3":0.096,"r3":0.1},
{"t":0.3497,"m1":0.09,"r1":0.1,"m2":0.003,"r2":0,"m3":0.097,"r3":0.1},
{"t":0.34975,"m1":0.089,"r1":0.1,"m2":0.006,"r2":0,"m3":0.096,"r3":0.1},
{"t":0.3498,"m1":0.096,"r1":0.1,"m2":0.009,"r2":0,"m3":0.097,"r3":0.1},
{"t":0.34985,"m1":0.106,"r1":0.1,"m2":0.011,"r2":0,"m3":0.098,"r3":0.1},
{"t":0.3499,"m1":0.115,"r1":0.1,"m2":0.01,"r2":0,"m3":0.099,"r3":0.1},
{"t":0.34995,"m1":0.121,"r1":0.1,"m2":0.006,"r2":0,"m3":0.1,"r3":0.1},
{"t":0.35,"m1":0.118,"r1":0.1,"m2":0.003,"r2":0,"m3":0.101,"r3":0.1}
]
},
"bounds":"flush",
"spacing":56,
"resolve":{"scale":{"x":"independent","y":"independent","color":"independent","strokeWidth":"independent"},"axis":{"x":"independent","y":"independent"},"legend":{"color":"independent"}},
"vconcat":[
{
"width":701,"height":103,
"layer":[
{"data":{"name":"afg"},
"mark":{"type":"line","color":"#00ee00","strokeWidth":2.6,"strokeJoin":"round"},
"encoding":{
"x":{"field":"t","type":"quantitative","scale":{"domain":[0.336,0.35],"nice":false,"zero":false},"axis":{"title":null,"labelPadding":17,"values":[0.336,0.339,0.342,0.345,0.348,0.35],"format":".3~f"}},
"y":{"field":"a","type":"quantitative","scale":{"domain":[-0.01,0.2],"nice":false,"zero":false},"axis":{"title":"AFG signal","titleX":-70,"titleY":55,"values":[0,0.1,0.2],"format":"~g"}}}},
{"data":{"values":[{}]},
"mark":{"type":"text","text":"Pulse input - 4 FOFB samples width","fontSize":25.5,"align":"left","baseline":"alphabetic"},
"encoding":{"x":{"datum":0.34109},"y":{"datum":0.1312}}}
]
},
{
"bounds":"flush",
"spacing":60,
"resolve":{"scale":{"x":"independent","y":"independent","color":"independent","strokeWidth":"independent"},"axis":{"x":"independent","y":"independent"},"legend":{"color":"independent"}},
"vconcat":[
{
"width":701,"height":149,
"layer":[
{"data":{"name":"resp"},
"transform":[{"fold":["m1","r1"],"as":["series","pos"]}],
"mark":{"type":"line","point":{"filled":true,"size":12},"strokeJoin":"round"},
"encoding":{
"x":{"field":"t","type":"quantitative","scale":{"domain":[0.336,0.35],"nice":false,"zero":false},"axis":{"title":null,"labelPadding":22,"values":[0.336,0.339,0.342,0.345,0.348,0.35],"format":".3~f"}},
"y":{"field":"pos","type":"quantitative","scale":{"domain":[0,0.2],"nice":false,"zero":false},"axis":{"title":"x (mm)","titleX":-67,"values":[0,0.1,0.2],"format":"~g"}},
"color":{"field":"series","type":"nominal","scale":{"domain":["m1","r1"],"range":["#0000ff","#ff0000"]},
"legend":{"title":null,"orient":"none","legendX":433,"legendY":-10,"direction":"vertical","labelExpr":"datum.label == 'm1' ? 'Measured response' : 'Model response'","labelFontSize":22,"labelFont":"Liberation Sans","labelColor":"#000000","labelLimit":400,"symbolType":"M-1,0H4.47M1.88,0A0.15,0.15,0,1,1,1.58,0A0.15,0.15,0,1,1,1.88,0","symbolSize":225,"symbolStrokeWidth":2,"fillColor":"white","strokeColor":"#8c8c8c","padding":6,"rowPadding":5,"labelOffset":30}},
"strokeWidth":{"field":"series","type":"nominal","scale":{"type":"ordinal","domain":["m1","r1"],"range":[1.8,2.8]},"legend":null}}},
{"data":{"values":[{}]},"mark":{"type":"text","text":"K","fontSize":28,"align":"left","baseline":"alphabetic"},"encoding":{"x":{"datum":0.348076},"y":{"datum":0.0299}}},
{"data":{"values":[{}]},"mark":{"type":"text","text":"d","fontSize":18,"align":"left","baseline":"alphabetic","dx":18,"dy":10},"encoding":{"x":{"datum":0.348076},"y":{"datum":0.0299}}},
{"data":{"values":[{}]},"mark":{"type":"text","text":"= 0","fontSize":28,"align":"left","baseline":"alphabetic","dx":38},"encoding":{"x":{"datum":0.348076},"y":{"datum":0.0299}}}
]
},
{
"width":701,"height":146,
"layer":[
{"data":{"name":"resp"},
"transform":[{"fold":["m2","r2"],"as":["series","pos"]}],
"mark":{"type":"line","point":{"filled":true,"size":12},"strokeJoin":"round"},
"encoding":{
"x":{"field":"t","type":"quantitative","scale":{"domain":[0.336,0.35],"nice":false,"zero":false},"axis":{"title":null,"labelPadding":20,"values":[0.336,0.339,0.342,0.345,0.348,0.35],"format":".3~f"}},
"y":{"field":"pos","type":"quantitative","scale":{"domain":[-0.1,0.1],"nice":false,"zero":false},"axis":{"title":"x (mm)","titleX":-67,"values":[-0.1,0,0.1],"labelExpr":"datum.value < 0 ? '-' + format(-datum.value, '~g') : format(datum.value, '~g')"}},
"color":{"field":"series","type":"nominal","scale":{"domain":["m2","r2"],"range":["#0000ff","#ff0000"]},"legend":null},
"strokeWidth":{"field":"series","type":"nominal","scale":{"type":"ordinal","domain":["m2","r2"],"range":[1.8,2.8]},"legend":null}}},
{"data":{"values":[{}]},"mark":{"type":"text","text":"K","fontSize":25,"align":"left","baseline":"alphabetic"},"encoding":{"x":{"datum":0.347138},"y":{"datum":-0.0685}}},
{"data":{"values":[{}]},"mark":{"type":"text","text":"d","fontSize":18,"align":"left","baseline":"alphabetic","dx":16,"dy":12},"encoding":{"x":{"datum":0.347138},"y":{"datum":-0.0685}}},
{"data":{"values":[{}]},"mark":{"type":"text","text":"= -1e-5","fontSize":26,"align":"left","baseline":"alphabetic","dx":33},"encoding":{"x":{"datum":0.347138},"y":{"datum":-0.0685}}}
]
},
{
"width":701,"height":157,
"layer":[
{"data":{"name":"resp"},
"transform":[{"fold":["m3","r3"],"as":["series","pos"]}],
"mark":{"type":"line","point":{"filled":true,"size":12},"strokeJoin":"round"},
"encoding":{
"x":{"field":"t","type":"quantitative","scale":{"domain":[0.336,0.35],"nice":false,"zero":false},"axis":{"title":"Time (Sec)","labelPadding":22,"values":[0.336,0.339,0.342,0.345,0.348,0.35],"format":".3~f"}},
"y":{"field":"pos","type":"quantitative","scale":{"domain":[0,0.2],"nice":false,"zero":false},"axis":{"title":"x(mm)","titleX":-67,"values":[0,0.1,0.2],"format":"~g"}},
"color":{"field":"series","type":"nominal","scale":{"domain":["m3","r3"],"range":["#0000ff","#ff0000"]},"legend":null},
"strokeWidth":{"field":"series","type":"nominal","scale":{"type":"ordinal","domain":["m3","r3"],"range":[1.8,2.8]},"legend":null}}},
{"data":{"values":[{}]},"mark":{"type":"text","text":"K","fontSize":27,"align":"left","baseline":"alphabetic"},"encoding":{"x":{"datum":0.346938},"y":{"datum":0.034}}},
{"data":{"values":[{}]},"mark":{"type":"text","text":"d","fontSize":18,"align":"left","baseline":"alphabetic","dx":18,"dy":13},"encoding":{"x":{"datum":0.346938},"y":{"datum":0.034}}},
{"data":{"values":[{}]},"mark":{"type":"text","text":"= -4e-5","fontSize":28,"align":"left","baseline":"alphabetic","dx":40},"encoding":{"x":{"datum":0.346938},"y":{"datum":0.034}}}
]
}
]
}
]
}
